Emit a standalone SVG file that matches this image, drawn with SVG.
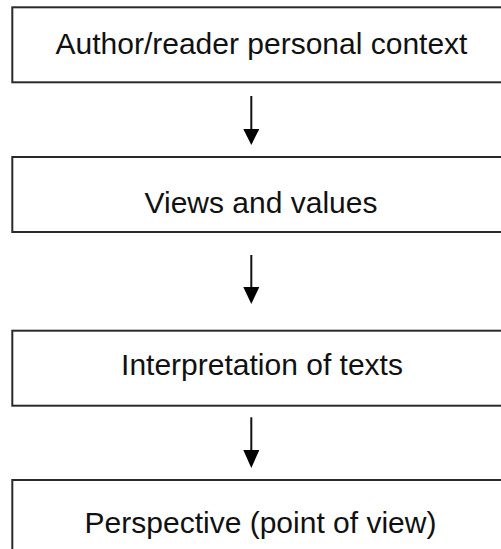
<svg xmlns="http://www.w3.org/2000/svg" width="501" height="549" viewBox="0 0 501 549">
<style>
.box{fill:#fff;stroke:#2a2a2a;stroke-width:2}
.lbl{font-family:"Liberation Sans",Arial,sans-serif;font-size:30px;fill:#111;text-anchor:middle}
.con{stroke:#111;stroke-width:2;fill:none}
.head{fill:#000}
</style>
<rect width="501" height="549" fill="#fff"/>
<g id="node1"><rect class="box" x="12.3" y="7.3" width="500" height="75"/><text class="lbl" x="261.5" y="54.3">Author/reader personal context</text></g>
<g id="node2"><rect class="box" x="12.3" y="157" width="500" height="75"/><text class="lbl" x="261" y="212.7">Views and values</text></g>
<g id="node3"><rect class="box" x="12.3" y="330.7" width="500" height="75"/><text class="lbl" x="262" y="375">Interpretation of texts</text></g>
<g id="node4"><rect class="box" x="12.3" y="480" width="500" height="100"/><text class="lbl" x="260.5" y="533.3">Perspective (point of view)</text></g>
<g id="connectors">
<line class="con" x1="251.3" y1="96" x2="251.3" y2="131"/><polygon class="head" points="243.3,129 259.3,129 251.3,145"/>
<line class="con" x1="251.3" y1="255" x2="251.3" y2="289"/><polygon class="head" points="243.3,287 259.3,287 251.3,304"/>
<line class="con" x1="251.3" y1="417.3" x2="251.3" y2="452"/><polygon class="head" points="243.3,450 259.3,450 251.3,468"/>
</g>
</svg>
